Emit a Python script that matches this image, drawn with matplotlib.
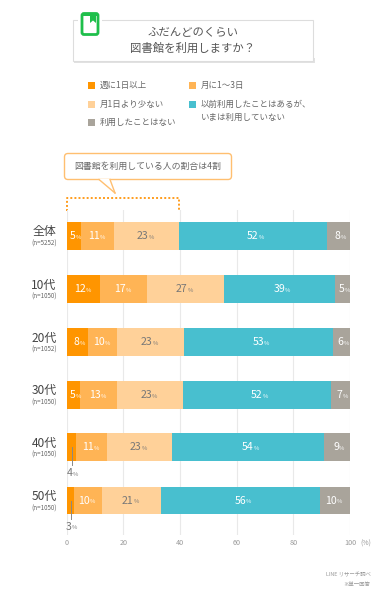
import matplotlib.pyplot as plt
from matplotlib.patches import Rectangle, FancyBboxPatch, Polygon

plt.rcParams['font.family'] = ['Noto Sans CJK JP', 'DejaVu Sans']

groups = ['全体', '10代', '20代', '30代', '40代', '50代']
sizes = ['(n=5252)', '(n=1050)', '(n=1052)', '(n=1050)', '(n=1050)', '(n=1050)']
series = ['週に1日以上', '月に1〜3日', '月1日より少ない', '以前利用したことはあるが、\nいまは利用していない', '利用したことはない']
colors = ['#ff9500', '#ffb455', '#ffd199', '#48bfcf', '#a9a49b']
text_colors = ['white', 'white', '#777777', 'white', 'white']

# widths, labels as printed
once_week = [5.1, 11.8, 7.5, 4.7, 3.4, 2.7]
monthly = [11.6, 16.6, 10.4, 13.2, 11.0, 9.7]
rarely = [22.9, 27.0, 23.4, 23.1, 22.7, 20.8]
used_before = [52.3, 39.4, 52.7, 52.2, 53.7, 56.2]
never = [8.1, 5.2, 6.0, 6.8, 9.2, 10.6]
values = [once_week, monthly, rarely, used_before, never]

once_week_lab = [5, 12, 8, 5, 4, 3]
monthly_lab = [11, 17, 10, 13, 11, 10]
rarely_lab = [23, 27, 23, 23, 23, 21]
used_before_lab = [52, 39, 53, 52, 54, 56]
never_lab = [8, 5, 6, 7, 9, 10]
labels = [once_week_lab, monthly_lab, rarely_lab, used_before_lab, never_lab]

ticks = [0, 20, 40, 60, 80, 100]

W, H = 385, 600
fig = plt.figure(figsize=(W / 100, H / 100), dpi=100)

# full-figure layer in pixel coordinates for the header decoration
bg = fig.add_axes([0, 0, 1, 1])
bg.set_xlim(0, W)
bg.set_ylim(H, 0)
bg.axis('off')


def pct_label(ax, x, y, num, color):
    # number with a much smaller % sign right behind it
    ax.text(x, y, f'{num}', ha='right', va='center', fontsize=7.6, color=color, zorder=5)
    ax.annotate('%', (x, y), xytext=(0, -1), textcoords='offset points',
                ha='left', va='center', fontsize=4.2, color=color, zorder=5)


# title box
bg.add_patch(Rectangle((74, 58), 240.5, 5, fc='#e2e2e2', ec='none'))
bg.add_patch(Rectangle((72.7, 19.5), 240.5, 41, fc='white', ec='#dddddd', lw=0.8))
bg.text(193, 33, 'ふだんどのくらい', ha='center', va='center', fontsize=8.2, color='#555555')
bg.text(193, 48, '図書館を利用しますか？', ha='center', va='center', fontsize=8.2, color='#555555')

# book icon
bg.add_patch(Rectangle((78, 15), 24, 22, fc='white', ec='none'))
bg.add_patch(FancyBboxPatch((82, 13.5), 16, 21, boxstyle='round,pad=0,rounding_size=2',
                            fc='white', ec='#1fbf4b', lw=2.0))
bg.add_patch(Rectangle((82, 13), 16, 3, fc='#1fbf4b', ec='none'))
bg.add_patch(Polygon([(90, 15), (96, 15), (96, 23), (93, 20.5), (90, 23)], fc='#1fbf4b', ec='none'))

# legend
legend_pos = [(88.5, 85.7), (189.5, 85.7), (88.5, 104.5), (189.5, 104.5), (88.5, 122.5)]
for name, color, (lx, ly) in zip(series, colors, legend_pos):
    bg.add_patch(Rectangle((lx - 0.5, ly - 3.5), 7, 7, fc=color, ec='none'))
    bg.text(lx + 11, ly, name.split('\n')[0], ha='left', va='center', fontsize=6.1, color='#666666')
    if '\n' in name:
        bg.text(lx + 11, ly + 12.8, name.split('\n')[1], ha='left', va='center', fontsize=6.1, color='#666666')

# callout
bg.add_patch(FancyBboxPatch((64.5, 153.5), 167, 26, boxstyle='round,pad=0,rounding_size=3.5',
                            fc='white', ec='#ffbf70', lw=1.0))
bg.add_patch(Polygon([(99, 179), (110, 179), (115, 193)], fc='white', ec='none', zorder=3))
bg.plot([99, 115], [179.5, 193], color='#ffbf70', lw=1.0, zorder=4)
bg.plot([110, 115], [179.5, 193], color='#ffbf70', lw=1.0, zorder=4)
bg.text(147.5, 166, '図書館を利用している人の割合は4割', ha='center', va='center', fontsize=6.4, color='#666666', zorder=5)

# dotted bracket over the first 40%
bg.plot([66.8, 66.8, 179.3, 179.3], [211, 197.5, 197.5, 211], color='#ff9d1e', lw=1.4, ls=(0, (1, 1.1)))

# chart
ax = fig.add_axes([66.7 / W, 1 - 535 / H, (350 - 66.7) / W, (535 - 210) / H], facecolor='none')
ax.set_xlim(0, 100)
ax.set_ylim(535, 210)
ax.grid(axis='x', color='#e9e9e9', lw=0.8)
ax.set_axisbelow(True)
for s in ax.spines.values():
    s.set_visible(False)

centers = [236, 289, 342, 394.8, 447, 500.5]
for i, yc in enumerate(centers):
    left = 0
    for j in range(5):
        w = values[j][i]
        ax.barh(yc, w, left=left, height=27.5, color=colors[j], zorder=2)
        if not (j == 0 and labels[j][i] < 5):
            shift = 2.0 if j == 3 else 0.7
            pct_label(ax, left + w / 2 + shift, yc, labels[j][i], text_colors[j])
        left += w
    bg.text(44, yc - 4, groups[i], ha='center', va='center', fontsize=8.6, color='#444444')
    bg.text(44, yc + 8, sizes[i], ha='center', va='center', fontsize=4.5, color='#666666')

# small segments get their label below the bar
for i in [4, 5]:
    xc = values[0][i] / 2
    ax.plot([xc, xc], [centers[i], centers[i] + 18], color='#888888', lw=0.7, zorder=4)
    pct_label(ax, xc + 0.5, centers[i] + 26, once_week_lab[i], '#777777')

ax.set_xticks(ticks)
ax.set_yticks([])
ax.tick_params(axis='x', length=0, labelsize=5.2, labelcolor='#999999', pad=3)
bg.text(365.5, 544, '(%)', ha='center', va='center', fontsize=5.0, color='#999999')

bg.text(370.5, 575, 'LINE リサーチ調べ', ha='right', va='center', fontsize=3.9, color='#999999')
bg.text(370.5, 584, '※単一回答', ha='right', va='center', fontsize=3.9, color='#999999')

fig.savefig('out.png', dpi=100)
